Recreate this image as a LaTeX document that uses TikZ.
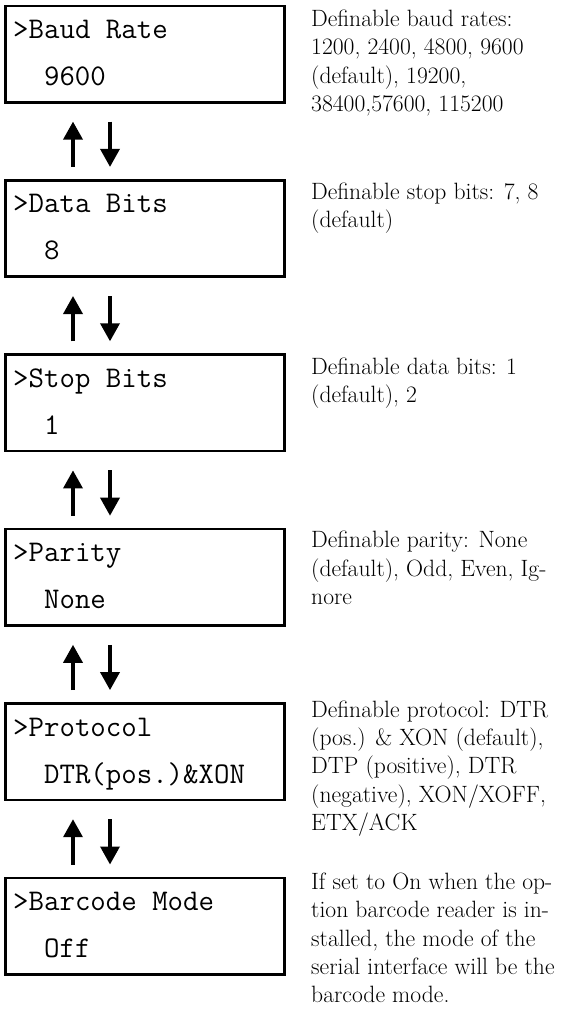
\documentclass[tikz,border=0pt]{standalone}
\usepackage{fontspec}
\usetikzlibrary{arrows.meta, positioning}
\tikzset{
	lcd/.style     ={rectangle, draw=black, line width=2.6pt, minimum width=279.4pt, minimum height=96.5pt, inner sep=0pt},
	lcdtext/.style ={anchor=base west, inner sep=0pt, font=\ttfamily\fontsize{30}{34}\selectfont},
	desc/.style    ={align=left, inner sep=0pt, font=\fontsize{23.6}{28.3}\selectfont},
	sig/.style     ={-{Triangle[length=18pt, width=19pt]}, line width=3.5pt},
}
\begin{document}
\begin{tikzpicture}[node distance=75.3pt]
	\useasboundingbox (0,0) rectangle (583pt,-1028pt);
	% menu boxes
	\node[lcd, anchor=north west] (m1) at (4pt,-4.5pt) {};
	\node[lcd, below=of m1] (m2) {};
	\node[lcd, below=of m2] (m3) {};
	\node[lcd, below=of m3] (m4) {};
	\node[lcd, below=of m4] (m5) {};
	\node[lcd, below=of m5] (m6) {};
	% display lines
	\node[lcdtext] (m1t) at ([xshift=9pt, yshift=-34pt]m1.north west) {>Baud Rate};
	\node[lcdtext] (m1v) at ([xshift=9pt, yshift=-81pt]m1.north west) {\ \ 9600};
	\node[lcdtext] (m2t) at ([xshift=9pt, yshift=-34pt]m2.north west) {>Data Bits};
	\node[lcdtext] (m2v) at ([xshift=9pt, yshift=-81pt]m2.north west) {\ \ 8};
	\node[lcdtext] (m3t) at ([xshift=9pt, yshift=-34pt]m3.north west) {>Stop Bits};
	\node[lcdtext] (m3v) at ([xshift=9pt, yshift=-81pt]m3.north west) {\ \ 1};
	\node[lcdtext] (m4t) at ([xshift=9pt, yshift=-34pt]m4.north west) {>Parity};
	\node[lcdtext] (m4v) at ([xshift=9pt, yshift=-81pt]m4.north west) {\ \ None};
	\node[lcdtext] (m5t) at ([xshift=9pt, yshift=-34pt]m5.north west) {>Protocol};
	\node[lcdtext] (m5v) at ([xshift=9pt, yshift=-81pt]m5.north west) {\ \ DTR(pos.)\&XON};
	\node[lcdtext] (m6t) at ([xshift=9pt, yshift=-34pt]m6.north west) {>Barcode Mode};
	\node[lcdtext] (m6v) at ([xshift=9pt, yshift=-81pt]m6.north west) {\ \ Off};
	% descriptions
	\node[desc, below right=5.4pt and 25pt of m1.north east] (d1) {Definable baud rates:\\1200, 2400, 4800, 9600\\(default), 19200,\\38400,57600, 115200};
	\node[desc, below right=3.4pt and 25pt of m2.north east] (d2) {Definable stop bits: 7, 8\\(default)};
	\node[desc, below right=4.4pt and 25pt of m3.north east] (d3) {Definable data bits: 1\\(default), 2};
	\node[desc, below right=3.4pt and 25pt of m4.north east] (d4) {Definable parity: None\\(default), Odd, Even, Ig-\\nore};
	\node[desc, below right=-1.6pt and 25pt of m5.north east] (d5) {Definable protocol: DTR\\(pos.) \& XON (default),\\DTP (positive), DTR\\(negative), XON/XOFF,\\ETX/ACK};
	\node[desc, below right=-3.6pt and 25pt of m6.north east] (d6) {If set to On when the op-\\tion barcode reader is in-\\stalled, the mode of the\\serial interface will be the\\barcode mode.};
	% up / down arrows
	\draw[sig, shorten <=12pt, shorten >=18pt] ([xshift=69pt]m2.north west) -- ([xshift=69pt]m1.south west);
	\draw[sig, shorten <=18pt, shorten >=12pt] ([xshift=106pt]m1.south west) -- ([xshift=106pt]m2.north west);
	\draw[sig, shorten <=12pt, shorten >=18pt] ([xshift=69pt]m3.north west) -- ([xshift=69pt]m2.south west);
	\draw[sig, shorten <=18pt, shorten >=12pt] ([xshift=106pt]m2.south west) -- ([xshift=106pt]m3.north west);
	\draw[sig, shorten <=12pt, shorten >=18pt] ([xshift=69pt]m4.north west) -- ([xshift=69pt]m3.south west);
	\draw[sig, shorten <=18pt, shorten >=12pt] ([xshift=106pt]m3.south west) -- ([xshift=106pt]m4.north west);
	\draw[sig, shorten <=12pt, shorten >=18pt] ([xshift=69pt]m5.north west) -- ([xshift=69pt]m4.south west);
	\draw[sig, shorten <=18pt, shorten >=12pt] ([xshift=106pt]m4.south west) -- ([xshift=106pt]m5.north west);
	\draw[sig, shorten <=12pt, shorten >=18pt] ([xshift=69pt]m6.north west) -- ([xshift=69pt]m5.south west);
	\draw[sig, shorten <=18pt, shorten >=12pt] ([xshift=106pt]m5.south west) -- ([xshift=106pt]m6.north west);
\end{tikzpicture}
\end{document}
